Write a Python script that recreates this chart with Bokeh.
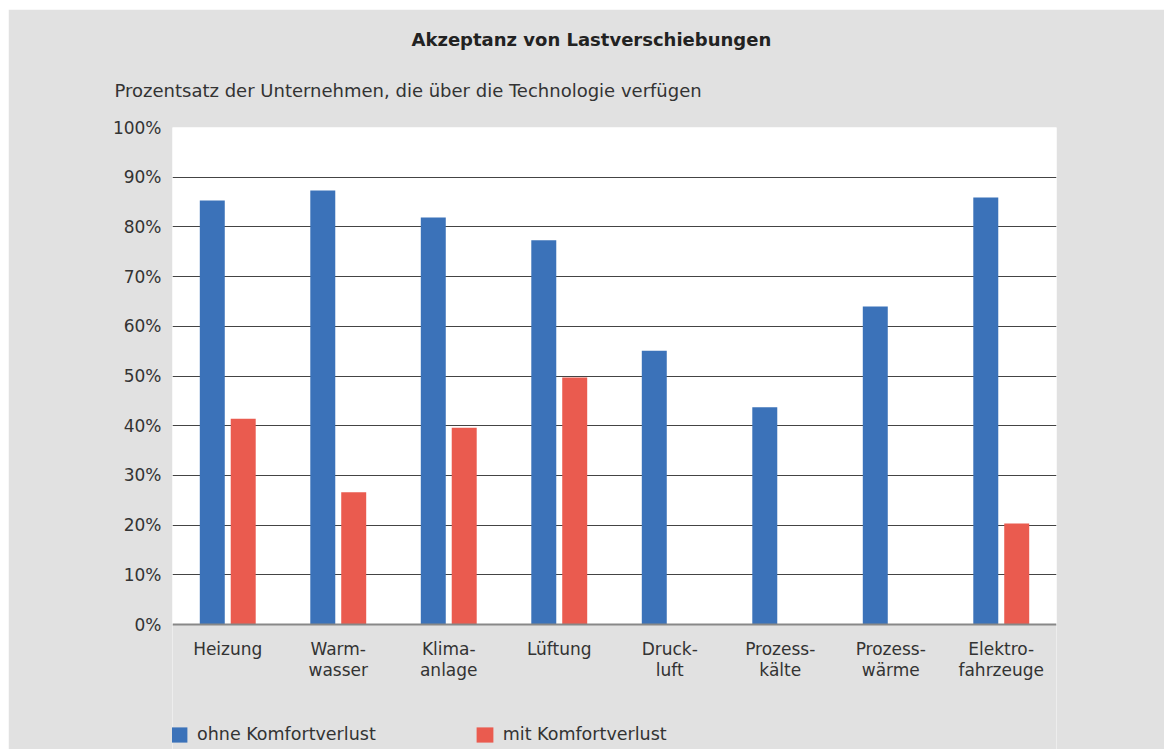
import numpy as np
from bokeh.plotting import figure
from bokeh.models import (Range1d, FixedTicker, Grid, Title, Legend, LegendItem,
                          ColumnDataSource, Spacer, BoxAnnotation)
from bokeh.layouts import column, row
from bokeh.embed import file_html
from bokeh.resources import INLINE

categories = ["Heizung", "Warm-\nwasser", "Klima-\nanlage", "Lüftung", "Druck-\nluft",
              "Prozess-\nkälte", "Prozess-\nwärme", "Elektro-\nfahrzeuge"]
ohne_komfortverlust = [85.3, 87.3, 81.9, 77.3, 55.1, 43.7, 64.0, 85.9]
mit_komfortverlust = [41.4, 26.6, 39.6, 49.7, None, None, None, 20.3]
y_ticks = [0, 10, 20, 30, 40, 50, 60, 70, 80, 90, 100]
y_tick_labels = [f"{t}%" for t in y_ticks]

title_text = "Akzeptanz von Lastverschiebungen"
subtitle_text = "Prozentsatz der Unternehmen, die über die Technologie verfügen"
series_names = ["ohne Komfortverlust", "mit Komfortverlust"]

BLUE = "#3b72b9"
RED = "#ea5b4f"
BG = "#e1e1e1"
TXT = "#333333"
FONT = "DejaVu Sans"
FS = "17px"

n = len(categories)
centers = np.arange(n) + 0.5
src = ColumnDataSource(dict(
    x_ohne=centers - 0.14,
    x_mit=centers + 0.14,
    ohne=ohne_komfortverlust,
    mit=[np.nan if v is None else v for v in mit_komfortverlust],
))

# frame reaches the bottom of the page so that the legend lives inside it
p = figure(width=1156, height=740, x_range=Range1d(0, n), y_range=Range1d(-25.15, 100),
           output_backend="svg", toolbar_location=None, title=None,
           background_fill_color="white", border_fill_color=BG,
           min_border_left=164, min_border_right=108, min_border_top=118, min_border_bottom=0)
p.outline_line_color = None

# grey region below the 0% line (outside the white plot area)
p.add_layout(BoxAnnotation(left=-1, right=n + 1, bottom=-60, top=0, fill_color=BG, fill_alpha=1,
                           line_color=None, level="underlay"))

r1 = p.vbar(x="x_ohne", top="ohne", width=0.226, source=src, fill_color=BLUE, line_color=None)
r2 = p.vbar(x="x_mit", top="mit", width=0.226, source=src, fill_color=RED, line_color=None)

# y axis
p.yaxis.ticker = FixedTicker(ticks=y_ticks)
p.yaxis.major_label_overrides = {t: l for t, l in zip(y_ticks, y_tick_labels)}
p.yaxis.axis_line_color = None
p.yaxis.major_tick_line_color = None
p.yaxis.major_tick_out = 0
p.yaxis.major_tick_in = 0
p.yaxis.minor_tick_line_color = None
p.yaxis.major_label_standoff = 11
p.yaxis.major_label_text_font = FONT
p.yaxis.major_label_text_font_size = FS
p.yaxis.major_label_text_color = TXT

# x axis at the 0% line
xa = p.xaxis[0]
xa.fixed_location = 0
xa.ticker = FixedTicker(ticks=list(centers))
xa.major_label_overrides = {float(c): l for c, l in zip(centers, categories)}
xa.axis_line_color = "#888888"
xa.axis_line_width = 2
xa.major_tick_line_color = None
xa.major_tick_out = 0
xa.major_tick_in = 0
xa.minor_tick_line_color = None
xa.major_label_standoff = 14
xa.major_label_text_font = FONT
xa.major_label_text_font_size = FS
xa.major_label_text_color = TXT
xa.major_label_text_line_height = 1.09

p.xgrid.grid_line_color = None
p.ygrid.ticker = FixedTicker(ticks=y_ticks[1:-1])
p.ygrid.grid_line_color = "#444444"
p.ygrid.grid_line_width = 1.2
p.add_layout(Grid(dimension=1, ticker=FixedTicker(ticks=[100]), grid_line_color="#999999",
                  grid_line_width=2))

# subtitle (closest to frame), then title
p.add_layout(Title(text=subtitle_text, align="left", offset=-58, standoff=54,
                   text_font=FONT, text_font_size="18px", text_font_style="normal",
                   text_color=TXT), "above")
p.add_layout(Title(text=title_text, align="left", offset=239, standoff=1,
                   text_font=FONT, text_font_size="18px", text_font_style="bold",
                   text_color="#222222"), "above")

legend = Legend(items=[LegendItem(label=series_names[0], renderers=[r1]),
                       LegendItem(label=series_names[1], renderers=[r2])],
                location=(-4, 5), orientation="horizontal",
                background_fill_alpha=0, border_line_color=None,
                padding=0, margin=0, spacing=98, glyph_width=21, glyph_height=19,
                label_standoff=8, label_text_font=FONT, label_text_font_size="17.5px",
                label_text_color=TXT, label_height=19, label_text_baseline="middle")
p.add_layout(legend, "center")

layout = column(Spacer(height=9), row(Spacer(width=8), p))
open("out.html", "w").write(file_html(layout, INLINE))
